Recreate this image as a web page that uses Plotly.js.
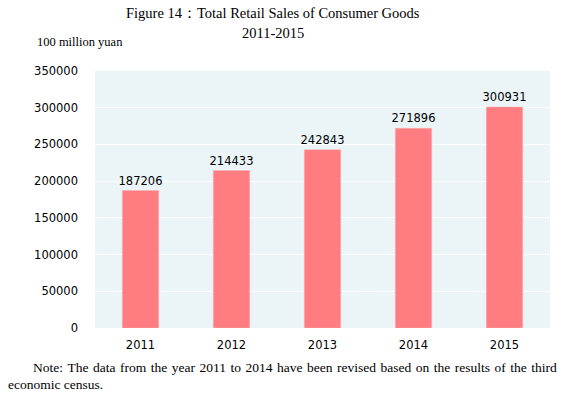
<!DOCTYPE html>
<html><head><meta charset="utf-8">
<script src="https://cdn.plot.ly/plotly-3.0.1.min.js"></script>
<style>body{margin:0;background:#fff}#c{width:578px;height:397px}</style>
</head><body><div id="c"></div>
<script>
const years = ['2011','2012','2013','2014','2015'];
const sales = [187206, 214433, 242843, 271896, 300931];
const yTicks = [0,50000,100000,150000,200000,250000,300000,350000];

const sans = 'DejaVu Sans, Tahoma, sans-serif';
const serif = 'Times New Roman, Liberation Serif, serif';
const trace = {
  type:'bar', x: years, y: sales,
  marker:{color:'#FF7C80', line:{color:'#FFB0B2', width:0.5}},
  text: sales.map(String), textposition:'outside', cliponaxis:false, constraintext:'none',
  textfont:{family:sans, size:11.5, color:'#000'},
  hoverinfo:'none'
};
const noteLine1 = 'Note: The data from the year 2011 to 2014 have been revised based on the results of the third';
const layout = {
  width:578, height:397,
  margin:{l:95, r:28, t:71, b:69},
  paper_bgcolor:'#fff', plot_bgcolor:'#EBF5F8',
  bargap:0.6, showlegend:false,
  xaxis:{type:'category', showgrid:false, zeroline:false, showline:false, ticks:'',
    ticklabelstandoff:8,
    tickfont:{family:sans, size:11.5, color:'#000'}},
  yaxis:{range:[0,350000], tickvals:yTicks, ticktext:yTicks.map(String),
    gridcolor:'#ffffff', gridwidth:1, zeroline:false, showline:false, ticks:'',
    ticklabelstandoff:16,
    tickfont:{family:sans, size:11.5, color:'#000'}},
  annotations:[
    {xref:'paper', yref:'paper', x:0.391, y:1, yshift:58, xanchor:'center', yanchor:'middle', showarrow:false,
     text:'Figure 14：Total Retail Sales of Consumer Goods', font:{family:serif, size:14.5, color:'#000'}},
    {xref:'paper', yref:'paper', x:0.391, y:1, yshift:38, xanchor:'center', yanchor:'middle', showarrow:false,
     text:'2011-2015', font:{family:serif, size:14.5, color:'#000'}},
    {xref:'paper', yref:'paper', x:0, y:1, xshift:-60, yshift:29, xanchor:'left', yanchor:'middle', showarrow:false,
     text:'100 million yuan', font:{family:serif, size:12.5, color:'#000'}},
    {xref:'paper', yref:'paper', x:0, y:0, xshift:-64, yshift:-39, xanchor:'left', yanchor:'middle', showarrow:false,
     text:noteLine1.split(' ').join(' \u200A'), font:{family:serif, size:13.5, color:'#000'}},
    {xref:'paper', yref:'paper', x:0, y:0, xshift:-89, yshift:-56, xanchor:'left', yanchor:'middle', showarrow:false,
     text:'economic census.', font:{family:serif, size:13.5, color:'#000'}}
  ]
};
Plotly.newPlot('c',[trace],layout,{displayModeBar:false, staticPlot:true});
</script></body></html>
